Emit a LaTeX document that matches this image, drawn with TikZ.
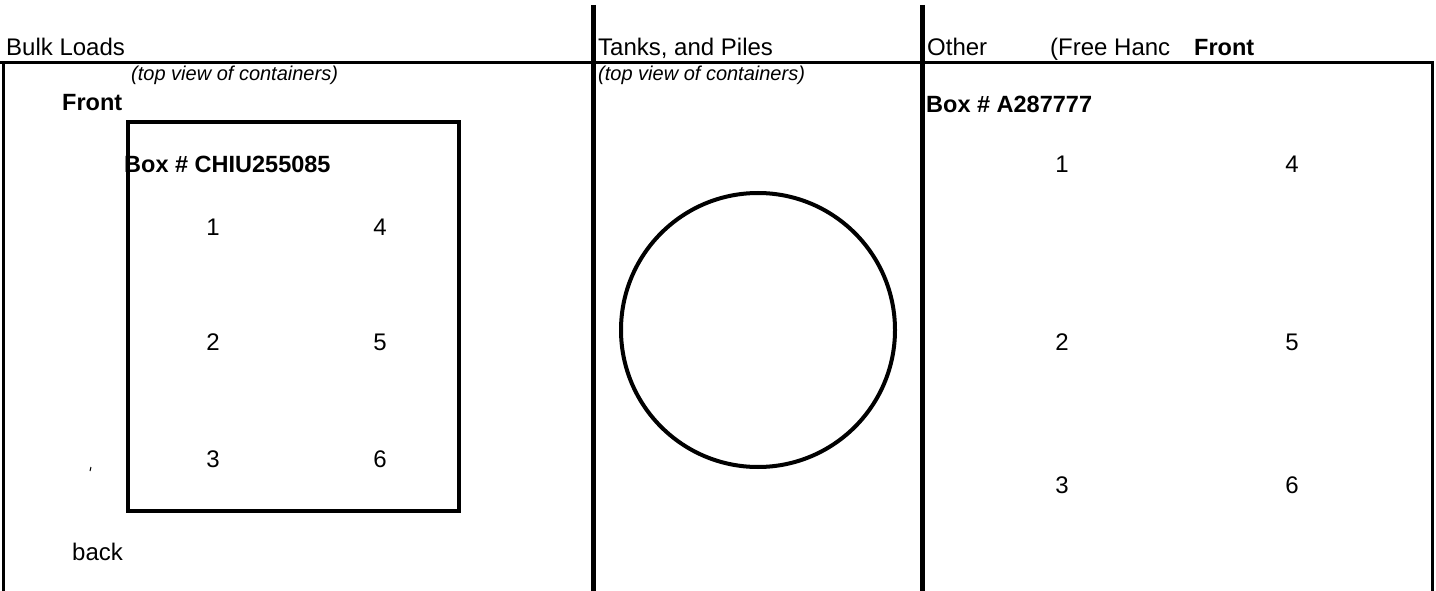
\documentclass[tikz,border=0pt]{standalone}
\usepackage{fontspec}
\setmainfont{Liberation Sans}
\begin{document}
\begin{tikzpicture}[x=1pt,y=-1pt,
  txt/.style={anchor=base west,inner sep=0pt,font=\fontsize{24}{28}\selectfont},
  itxt/.style={anchor=base west,inner sep=0pt,font=\fontsize{20}{24}\selectfont\itshape},
  btxt/.style={anchor=base west,inner sep=0pt,font=\fontsize{23.5}{28}\selectfont\bfseries},
  num/.style={anchor=base,inner sep=0pt,font=\fontsize{24}{28}\selectfont},
  frame/.style={line width=3pt},
  divider/.style={line width=5pt},
  boxline/.style={line width=4pt}]
\useasboundingbox (0,0) rectangle (1436,591);
% frame
\coordinate (tl) at (0,63);
\coordinate (tr) at (1433.5,63);
\coordinate (bl) at (3,591);
\coordinate (br) at (1432,591);
\draw[frame] (tl) -- (tr);
\draw[frame] (3,61.5) -- (bl);
\draw[frame] (1432,61.5) -- (br);
\coordinate (d1t) at (593,5);
\coordinate (d1b) at (593,591);
\coordinate (d2t) at (922,5);
\coordinate (d2b) at (922,591);
\draw[divider] (d1t) -- (d1b);
\draw[divider] (d2t) -- (d2b);
% headers
\node[txt] (h1) at (6,56) {Bulk Loads};
\node[txt] (h2) at (598,56) {Tanks, and Piles};
\node[txt] (h3) at (927,56) {Other};
\node[txt] (h4) at (1050,56) {(Free Hanc};
\node[btxt] (h5) at (1194,56) {Front};
% left column
\node[itxt] (tv1) at (131,81) {(top view of containers)};
\node[btxt] (fr1) at (62,111) {Front};
\draw[boxline] (128,122) rectangle (459,511);
\node[btxt] (bx1) at (124,173) {Box \# CHIU255085};
\node[num] (n1) at (213,235) {1};
\node[num] (n4) at (380,235) {4};
\node[num] (n2) at (213,350) {2};
\node[num] (n5) at (380,350) {5};
\node[num] (n3) at (213,467) {3};
\node[num] (n6) at (380,467) {6};
\node[txt] (bk) at (72,560) {back};
\draw[line width=1pt] (90,471) -- (91,467);
% middle column
\node[itxt] (tv2) at (598,81) {(top view of containers)};
\draw[boxline] (758,330) circle (137);
% right column
\node[btxt] (bx2) at (926,113) {Box \# A287777};
\node[num] (m1) at (1062,173) {1};
\node[num] (m4) at (1292,173) {4};
\node[num] (m2) at (1062,350) {2};
\node[num] (m5) at (1292,350) {5};
\node[num] (m3) at (1062,493) {3};
\node[num] (m6) at (1292,493) {6};
\end{tikzpicture}
\end{document}
